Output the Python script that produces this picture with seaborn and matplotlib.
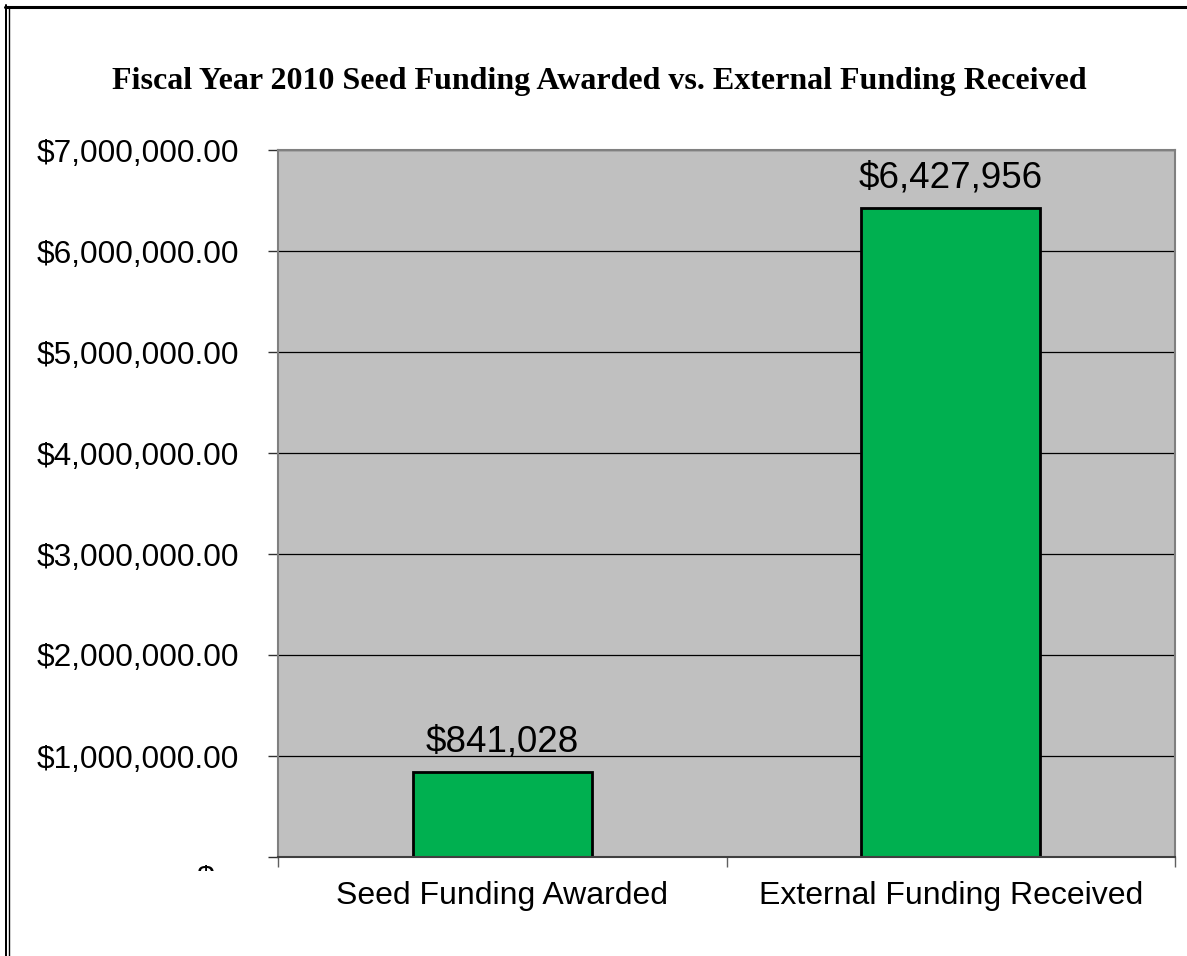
import matplotlib
matplotlib.use("Agg")
import matplotlib.pyplot as plt
from matplotlib.lines import Line2D
from matplotlib.transforms import Bbox
import seaborn as sns
import pandas as pd

categories = ["Seed Funding Awarded", "External Funding Received"]
values = [841028, 6427956]
value_labels = ["$841,028", "$6,427,956"]
y_ticks = [1000000, 2000000, 3000000, 4000000, 5000000, 6000000, 7000000]
y_tick_labels = ["$1,000,000.00", "$2,000,000.00", "$3,000,000.00", "$4,000,000.00",
                 "$5,000,000.00", "$6,000,000.00", "$7,000,000.00"]
title = "Fiscal Year 2010 Seed Funding Awarded vs. External Funding Received"

sns.set_theme(style="white")
plt.rcParams["font.family"] = ["Liberation Sans", "DejaVu Sans"]
plt.rcParams["text.color"] = "black"
plt.rcParams["xtick.color"] = "black"
plt.rcParams["ytick.color"] = "black"
plt.rcParams["xtick.labelcolor"] = "black"
plt.rcParams["ytick.labelcolor"] = "black"

W, H = 1187, 956
fig = plt.figure(figsize=(W / 100, H / 100), dpi=100)
ax = fig.add_axes([278 / W, 1 - 857 / H, (1175 - 278) / W, (857 - 150) / H])
ax.set_facecolor("#C0C0C0")

df = pd.DataFrame({"category": categories, "value": values})
sns.barplot(data=df, x="category", y="value", color="#00B050", saturation=1,
            edgecolor="black", linewidth=2, width=0.4, ax=ax, zorder=3)

ax.set_ylim(0, 7000000)
ax.set_xlim(-0.5, 1.5)
ax.set_xlabel("")
ax.set_ylabel("")

# gridlines
for yv in y_ticks:
    ax.axhline(yv, color="black", linewidth=0.9, zorder=1)

# y ticks
ax.set_yticks([0] + y_ticks)
ax.set_yticklabels([""] + y_tick_labels, fontsize=22.8, color="black")
ax.tick_params(axis="y", which="major", left=True, length=7.2, width=1.0,
               color="#303030", pad=21)

# x ticks: boundaries as major ticks, labels on minor
ax.set_xticks([-0.5, 0.5, 1.5])
ax.set_xticklabels(["", "", ""])
ax.set_xticks([0, 1], minor=True)
ax.set_xticklabels(categories, minor=True, fontsize=23, color="black")
ax.tick_params(axis="x", which="major", bottom=True, length=7, width=1.0,
               color="#606060")
ax.tick_params(axis="x", which="minor", bottom=False, length=0, pad=17)

for s in ax.spines.values():
    s.set_color("#808080")
    s.set_linewidth(1.5)
    s.set_visible(True)
    s.set_zorder(4)
ax.spines["bottom"].set_color("#404040")

# data labels
for i, (v, lab) in enumerate(zip(values, value_labels)):
    ax.annotate(lab, (i, v), xytext=(0, 14.5), textcoords="offset points",
                ha="center", va="baseline", fontsize=26.5, color="black", zorder=5)

# title
fig.text(599 / W, 1 - 82 / H, title, ha="center", va="center", fontsize=23,
         fontweight="bold", color="black", family=["Liberation Serif", "DejaVu Serif"])

# clipped zero label fragment
t = fig.text(205 / W, 1 - 864 / H, "$", ha="center", va="top", fontsize=22.8,
             color="black")
t.set_clip_box(Bbox([[180, H - 871], [230, H - 856]]))
t.set_clip_on(True)

# border lines (top and left double)
fig.add_artist(Line2D([5 / W, 1], [1 - 6.5 / H, 1 - 6.5 / H], color="black",
                      linewidth=2.2, transform=fig.transFigure))
fig.add_artist(Line2D([6 / W, 6 / W], [0, 1 - 5 / H], color="black",
                      linewidth=1.44, transform=fig.transFigure))
fig.add_artist(Line2D([9.2 / W, 9.2 / W], [0, 1 - 8 / H], color="black",
                      linewidth=1.0, transform=fig.transFigure))

fig.savefig("out.png", dpi=100, facecolor="white")
